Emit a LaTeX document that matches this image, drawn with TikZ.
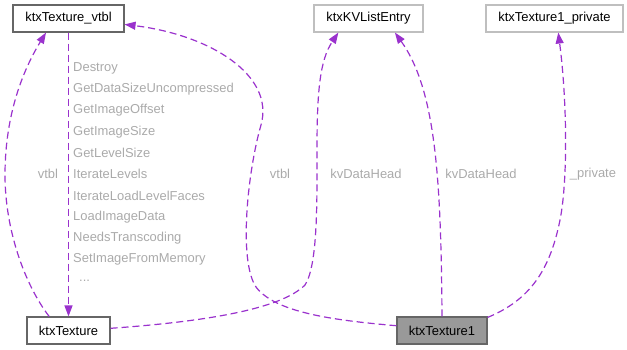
\documentclass[tikz,border=0pt]{standalone}
\usepackage{fontspec}
\setmainfont{Liberation Sans}
\usetikzlibrary{arrows.meta}
\definecolor{edgepurple}{HTML}{9A32CD}
\definecolor{lblgray}{HTML}{AAAAAA}
\definecolor{darkborder}{HTML}{666666}
\definecolor{lightborder}{HTML}{BFBFBF}
\definecolor{curfill}{HTML}{999999}
\begin{document}
\begin{tikzpicture}[x=1bp,y=-1bp,
  every node/.style={font=\fontsize{13}{15}\selectfont, inner sep=0pt},
  classbox/.style={draw=darkborder, line width=1.1bp, fill=white, minimum height=27bp},
  extbox/.style={draw=lightborder, line width=1.1bp, fill=white, minimum height=27bp},
  curbox/.style={draw=darkborder, line width=1.1bp, fill=curfill, minimum height=27bp},
  rel/.style={draw=edgepurple, line width=1.2bp, dash pattern=on 7bp off 4bp,
    -{Triangle[length=11bp,width=8bp,fill=edgepurple]}},
  lbl/.style={text=lblgray},
  member/.style={text=lblgray, anchor=west}]
  \useasboundingbox (0,0) rectangle (627,349);

  % classes
  \node[classbox, minimum width=111bp] (vtbl) at (68.5,18.5) {ktxTexture\_vtbl};
  \node[extbox, minimum width=109bp] (kv) at (368.5,18.5) {ktxKVListEntry};
  \node[extbox, minimum width=137bp] (priv) at (554.5,18.5) {ktxTexture1\_private};
  \node[classbox, minimum width=83bp] (tex) at (68.5,330.5) {ktxTexture};
  \node[curbox, minimum width=90bp] (t1) at (442,330.5) {ktxTexture1};

  % ktxTexture -> ktxTexture_vtbl (vtbl)
  \draw[rel] (tex.144) .. controls (25,285) and (5,230) .. (5,175)
     .. controls (5,120) and (20,75) .. (vtbl.212);
  \node[lbl] (l1) at (48,174) {vtbl};

  % ktxTexture_vtbl -> ktxTexture (member functions)
  \draw[rel] (vtbl.south) -- (tex.north);
  \node[member] (m1) at (73,68) {Destroy};
  \node[member] (m2) at (73,89) {GetDataSizeUncompressed};
  \node[member] (m3) at (73,110) {GetImageOffset};
  \node[member] (m4) at (73,132) {GetImageSize};
  \node[member] (m5) at (73,153) {GetLevelSize};
  \node[member] (m6) at (73,174) {IterateLevels};
  \node[member] (m7) at (73,196) {IterateLoadLevelFaces};
  \node[member] (m8) at (73,217) {LoadImageData};
  \node[member] (m9) at (73,238) {NeedsTranscoding};
  \node[member] (m10) at (73,259) {SetImageFromMemory};
  \node[member] (m11) at (79,281) {...};

  % ktxTexture1 -> ktxTexture_vtbl (vtbl)
  \draw[rel] (t1.174) .. controls (330,320) and (275,312) .. (256,287)
     .. controls (238,260) and (248,170) .. (261,125)
     .. controls (275,75) and (210,35) .. (vtbl.-6);
  \node[lbl] (l2) at (280,174) {vtbl};

  % ktxTexture -> ktxKVListEntry (kvDataHead)
  \draw[rel] (tex.3) .. controls (200,322) and (280,310) .. (305,285)
     .. controls (318,265) and (317,200) .. (317,150)
     .. controls (317,90) and (320,60) .. (kv.205);
  \node[lbl] (l3) at (366,174) {kvDataHead};

  % ktxTexture1 -> ktxKVListEntry (kvDataHead)
  \draw[rel] (t1.north) .. controls (441,180) and (436,90) .. (kv.-28);
  \node[lbl] (l4) at (481,174) {kvDataHead};

  % ktxTexture1 -> ktxTexture1_private (_private)
  \draw[rel] (t1.16) .. controls (530,300) and (550,270) .. (560,220)
     .. controls (568,180) and (567,100) .. (priv.-75);
  \node[lbl] (l5) at (593,174) {\_private};
\end{tikzpicture}
\end{document}
